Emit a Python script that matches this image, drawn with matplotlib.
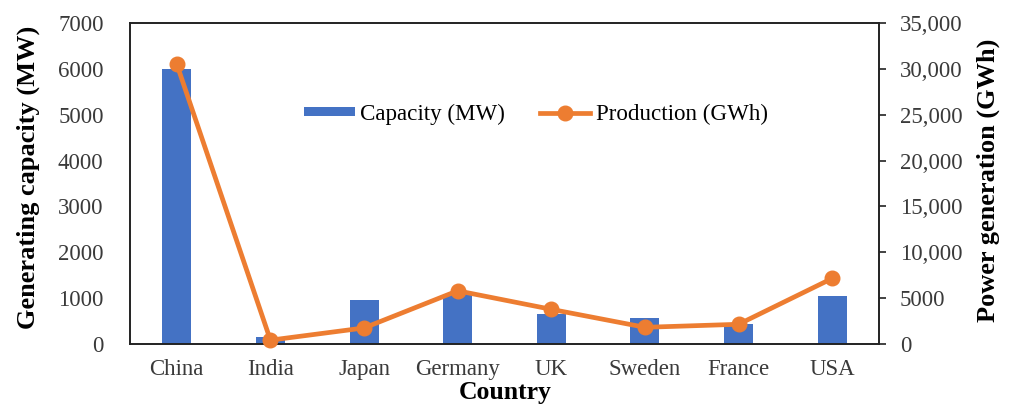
import matplotlib
matplotlib.use("Agg")
import matplotlib.pyplot as plt
from matplotlib.ticker import FuncFormatter

countries = ["China", "India", "Japan", "Germany", "UK", "Sweden", "France", "USA"]
capacity_mw = [6000, 160, 960, 1100, 650, 560, 440, 1050]
production_gwh = [30500, 420, 1750, 5800, 3780, 1820, 2150, 7150]

plt.rcParams['font.family'] = ['Liberation Serif', 'DejaVu Serif']

W, H = 1011, 405
fig = plt.figure(figsize=(W / 100, H / 100), dpi=100)
ax = fig.add_axes([130 / W, (H - 344) / H, (879 - 130) / W, (344 - 23) / H])
x = list(range(len(countries)))
bars = ax.bar(x, capacity_mw, width=0.31, color="#4472C4", label="Capacity (MW)", zorder=2)
ax.set_xlim(-0.5, len(countries) - 0.5)
ax.set_ylim(0, 7000)
ax.set_yticks(range(0, 7001, 1000))
ax.set_xticks(x)
ax.set_xticklabels(countries)
ax.tick_params(axis='both', length=0, labelsize=16.5, colors="#3a3a3a")
ax.tick_params(axis='y', pad=19)
ax.tick_params(axis='x', pad=11)
for s in ax.spines.values():
    s.set_color("#222222")
    s.set_linewidth(1.2)

ax2 = ax.twinx()
line, = ax2.plot(x, production_gwh, color="#ED7D31", linewidth=3.4, marker='o',
                 markersize=10.5, label="Production (GWh)", zorder=3, clip_on=False)
ax2.set_ylim(0, 35000)
ax2.set_yticks(range(0, 35001, 5000))
ax2.yaxis.set_major_formatter(FuncFormatter(lambda v, p: "0" if v == 0 else ("5000" if v == 5000 else f"{int(v):,}")))
ax2.tick_params(axis='y', direction='out', length=5, width=1.2, labelsize=16.5,
                colors="#222222", labelcolor="#3a3a3a", pad=10)
for s in ax2.spines.values():
    s.set_color("#222222")
    s.set_linewidth(1.2)

fig.text(28 / W, (H - 177) / H, "Generating capacity (MW)", rotation=90, ha='center', va='center',
         fontsize=19, fontweight='bold')
fig.text(988 / W, (H - 180) / H, "Power generation (GWh)", rotation=90, ha='center', va='center',
         fontsize=19, fontweight='bold')
fig.text(505 / W, (H - 393) / H, "Country", ha='center', va='center', fontsize=18.5, fontweight='bold')

leg = ax.legend([bars, line], ["Capacity (MW)", "Production (GWh)"], loc='center',
                bbox_to_anchor=((536 - 130) / (879 - 130), (344 - 114) / 321), ncol=2, frameon=False,
                fontsize=16.6, handlelength=2.2, handleheight=0.25, columnspacing=1.5, handletextpad=0.25)

fig.savefig("out.png", dpi=100)
